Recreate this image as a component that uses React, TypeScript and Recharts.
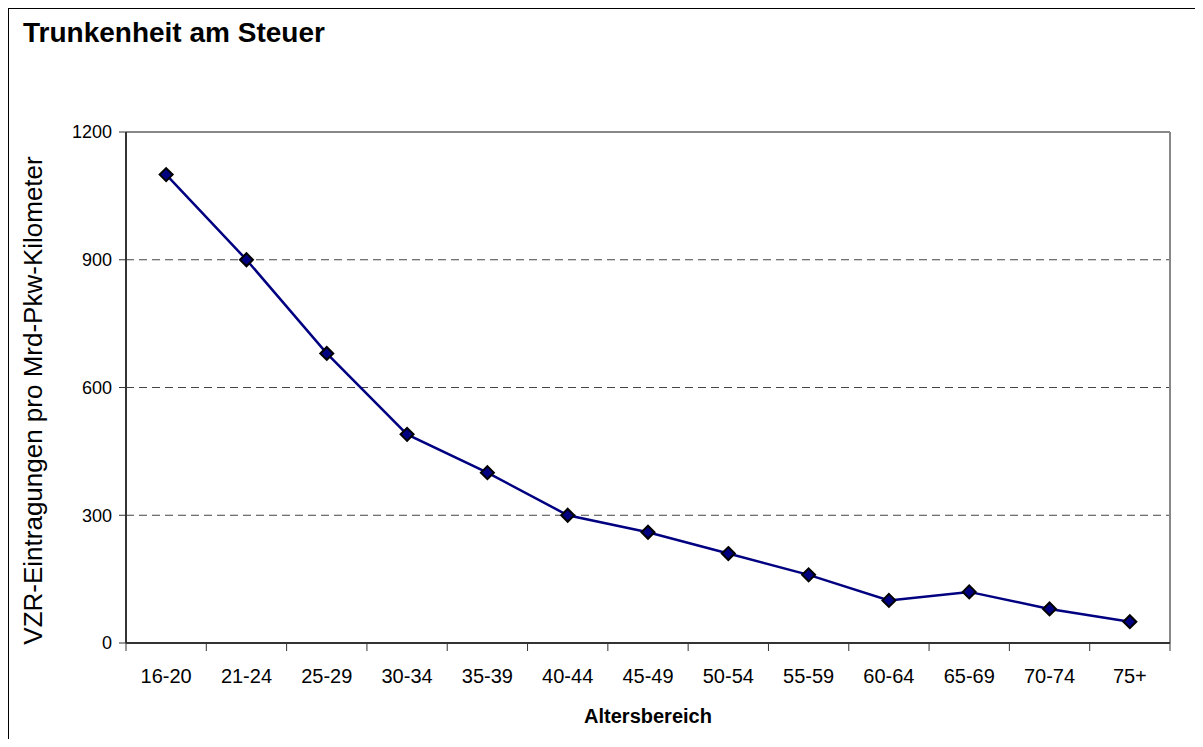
import React from 'react'
import { LineChart, Line, XAxis, YAxis, CartesianGrid, ReferenceLine } from 'recharts'

// Altersgruppen und Werte (VZR-Eintragungen pro Mrd-Pkw-Kilometer)
const categories = ['16-20', '21-24', '25-29', '30-34', '35-39', '40-44', '45-49', '50-54', '55-59', '60-64', '65-69', '70-74', '75+']
const values = [1100, 900, 680, 490, 400, 300, 260, 210, 160, 100, 120, 80, 50]
const yTicks = [0, 300, 600, 900, 1200]

const FONT = '"Liberation Sans", Arial, sans-serif'
const W = 1186
const H = 730
const MARGIN = { top: 123, right: 25, bottom: 0, left: 0 }
const Y_AXIS_W = 117
const PLOT_W = W - Y_AXIS_W - MARGIN.right

// Punkte liegen in der Mitte jeder Kategorie, Striche an den Grenzen
const data = categories.map((label, i) => ({ pos: i + 0.5, label, value: values[i] }))
const boundaries = categories.map((_, i) => i).concat(categories.length)

const CategoryTick = (props: any) => {
  const { x, y, payload } = props
  const i = payload.value
  if (i >= categories.length) return <g />
  const step = PLOT_W / categories.length
  return (
    <text x={x + step / 2} y={y} dy="0.71em" textAnchor="middle" fontSize={20} fontFamily={FONT} fill="#000">
      {categories[i]}
    </text>
  )
}

const Diamond = (props: any) => {
  const { cx, cy } = props
  if (cx == null || cy == null) return null
  const r = 6.5
  return (
    <polygon
      points={`${cx},${cy - r} ${cx + r},${cy} ${cx},${cy + r} ${cx - r},${cy}`}
      fill="#000080"
      stroke="#000"
      strokeWidth={2}
    />
  )
}

const YTitle = (props: any) => {
  const { viewBox } = props
  const cx = 33
  const cy = viewBox.y + viewBox.height / 2 + 13
  return (
    <text x={cx} y={cy} textAnchor="middle" fontSize={26} fontFamily={FONT} fill="#000" transform={`rotate(-90, ${cx}, ${cy})`}>
      VZR-Eintragungen pro Mrd-Pkw-Kilometer
    </text>
  )
}

const XTitle = (props: any) => {
  const { viewBox } = props
  return (
    <text x={viewBox.x + viewBox.width / 2} y={viewBox.y + 80} textAnchor="middle" fontSize={20} fontWeight="bold" fontFamily={FONT} fill="#000">
      Altersbereich
    </text>
  )
}

export default function App() {
  return (
    <div style={{ position: 'relative', width: W, height: H, borderLeft: '1px solid #000', borderTop: '1px solid #000', background: '#fff' }}>
      <div style={{ position: 'absolute', left: 14, top: 10, fontFamily: FONT, fontSize: 28, lineHeight: '28px', fontWeight: 'bold', color: '#000', whiteSpace: 'nowrap' }}>
        Trunkenheit am Steuer
      </div>
      <LineChart width={W} height={H} data={data} margin={MARGIN}>
        <CartesianGrid horizontal vertical={false} stroke="#444" strokeDasharray="8 5" />
        <XAxis
          dataKey="pos"
          type="number"
          domain={[0, categories.length]}
          ticks={boundaries}
          interval={0}
          height={96}
          tickSize={8}
          tickMargin={18}
          tick={<CategoryTick />}
          axisLine={{ stroke: '#333', strokeWidth: 2 }}
          tickLine={{ stroke: '#333' }}
          label={<XTitle />}
        />
        <YAxis
          domain={[0, 1200]}
          ticks={yTicks}
          width={Y_AXIS_W}
          tickSize={7}
          tickMargin={7}
          tick={{ fontSize: 18, fontFamily: FONT, fill: '#000' }}
          axisLine={{ stroke: '#333', strokeWidth: 2 }}
          tickLine={{ stroke: '#333' }}
          label={<YTitle />}
        />
        <ReferenceLine y={1200} stroke="#888" strokeWidth={2} />
        <ReferenceLine x={categories.length} stroke="#888" strokeWidth={2} />
        <Line
          dataKey="value"
          stroke="#000080"
          strokeWidth={2.5}
          dot={<Diamond />}
          activeDot={false}
          isAnimationActive={false}
        />
      </LineChart>
    </div>
  )
}
